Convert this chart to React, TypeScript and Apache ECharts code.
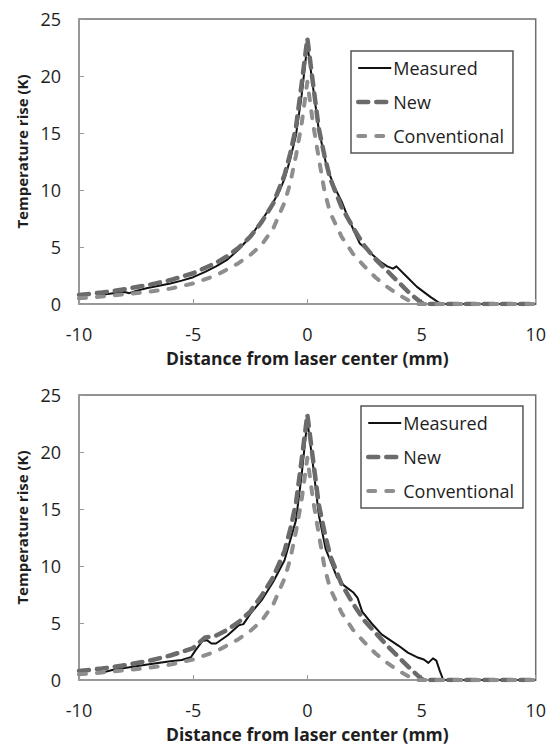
import React, { useEffect, useRef } from "react";
import * as echarts from "echarts";

// ---------- data (x in mm, y in K) ----------
const seriesNames = ["Measured", "New", "Conventional"];
const xTicks = [-10, -5, 0, 5, 10];
const yTicks = [0, 5, 10, 15, 20, 25];

const measuredTop: [number, number][] = [
  [-9.2, 0.7], [-9.0, 0.8], [-8.5, 0.95], [-8.0, 1.05], [-7.8, 0.95], [-7.5, 1.15],
  [-7.0, 1.4], [-6.5, 1.6], [-6.0, 1.8], [-5.5, 2.05], [-5.0, 2.35], [-4.5, 2.8],
  [-4.0, 3.3], [-3.5, 3.9], [-3.0, 4.8], [-2.5, 5.9], [-2.0, 7.3], [-1.5, 8.9],
  [-1.2, 10.0], [-1.0, 11.0], [-0.75, 12.7], [-0.5, 14.8], [-0.25, 18.3], [0, 22.8],
  [0.25, 19.0], [0.5, 15.3], [0.85, 12.0], [1.2, 10.2], [1.5, 9.0], [1.7, 8.0],
  [2.0, 6.6], [2.3, 5.3], [2.75, 4.5], [3.2, 3.7], [3.5, 3.3], [3.75, 3.1],
  [3.9, 3.3], [4.3, 2.5], [4.8, 1.5], [5.4, 0.6], [5.85, 0], [10, 0],
];
const newTop: [number, number][] = [
  [-10, 0.8], [-9, 1.0], [-8, 1.3], [-7, 1.65], [-6, 2.1], [-5, 2.7], [-4, 3.6],
  [-3.5, 4.2], [-3, 4.95], [-2.5, 5.9], [-2, 7.2], [-1.5, 8.8], [-1, 11.3],
  [-0.75, 13.2], [-0.5, 15.5], [-0.25, 19.3], [0, 23.3], [0.25, 19.3], [0.5, 15.4],
  [0.75, 13.0], [1, 11.0], [1.5, 8.5], [2, 6.7], [2.5, 5.1], [3, 3.9], [3.5, 2.9],
  [4, 1.9], [4.5, 0.9], [5, 0.1], [5.2, 0], [10, 0],
];
const conventionalTop: [number, number][] = [
  [-10, 0.5], [-9, 0.65], [-8, 0.85], [-7, 1.05], [-6, 1.35], [-5, 1.8], [-4, 2.5],
  [-3, 3.6], [-2.5, 4.3], [-2, 5.2], [-1.5, 6.6], [-1, 8.9], [-0.75, 10.6],
  [-0.5, 13.0], [-0.25, 15.8], [0, 19.5], [0.25, 15.8], [0.5, 12.8], [0.75, 9.9],
  [1, 8.0], [1.5, 5.9], [2, 4.4], [2.5, 3.3], [3, 2.3], [3.5, 1.5], [4, 0.8],
  [4.5, 0.25], [4.8, 0], [10, 0],
];

const measuredBottom: [number, number][] = [
  [-9.1, 0.6], [-8.5, 0.9], [-8.0, 1.05], [-7.0, 1.35], [-6.0, 1.65], [-5.5, 1.75],
  [-5.1, 2.0], [-4.9, 2.6], [-4.6, 3.4], [-4.4, 3.5], [-4.2, 3.2], [-4.0, 3.2],
  [-3.5, 3.9], [-3.0, 4.8], [-2.8, 4.9], [-2.5, 5.8], [-2.0, 7.0], [-1.5, 8.6],
  [-1.0, 10.5], [-0.5, 14.0], [-0.25, 18.0], [0, 22.8], [0.25, 18.8], [0.5, 14.5],
  [0.8, 11.5], [1.1, 10.0], [1.3, 9.0], [1.6, 8.3], [2.0, 7.7], [2.2, 7.2],
  [2.4, 6.0], [2.8, 5.0], [3.25, 4.0], [4.0, 3.0], [4.4, 2.4], [4.8, 2.0],
  [5.1, 1.8], [5.3, 1.5], [5.5, 1.9], [5.65, 1.7], [5.8, 0.8], [5.95, 0], [10, 0],
];
const newBottom: [number, number][] = [
  [-10, 0.8], [-9, 1.0], [-8, 1.3], [-7, 1.65], [-6, 2.15], [-5, 2.8], [-4.5, 3.7],
  [-4, 3.9], [-3.5, 4.4], [-3, 5.1], [-2.5, 6.0], [-2, 7.4], [-1.5, 9.0], [-1, 11.3],
  [-0.75, 13.2], [-0.5, 15.5], [-0.25, 19.3], [0, 23.3], [0.25, 19.3], [0.5, 15.4],
  [0.75, 13.0], [1, 10.9], [1.5, 8.4], [2, 6.7], [2.5, 5.2], [3, 4.1], [3.5, 3.0],
  [4, 2.0], [4.5, 1.0], [5, 0.1], [5.2, 0], [10, 0],
];
const conventionalBottom: [number, number][] = [
  [-10, 0.5], [-9, 0.65], [-8, 0.85], [-7, 1.05], [-6, 1.35], [-5, 1.8], [-4, 2.5],
  [-3, 3.6], [-2.5, 4.3], [-2, 5.2], [-1.5, 6.6], [-1, 8.9], [-0.75, 10.6],
  [-0.5, 13.0], [-0.25, 15.8], [0, 19.5], [0.25, 15.8], [0.5, 12.8], [0.75, 9.9],
  [1, 8.0], [1.5, 5.9], [2, 4.4], [2.5, 3.3], [3, 2.3], [3.5, 1.5], [4, 0.8],
  [4.5, 0.25], [4.8, 0], [10, 0],
];

const xTitle = "Distance from laser center (mm)";
const yTitle = "Temperature rise (K)";

const FONT = "'Open Sans', 'Noto Sans', sans-serif";

export default function App() {
  const ref = useRef<HTMLDivElement>(null);

  useEffect(() => {
    if (!ref.current) return;
    const chart = echarts.init(ref.current, undefined, { renderer: "svg" });

    const gridTops = [19, 395];
    const data = [
      [measuredTop, newTop, conventionalTop],
      [measuredBottom, newBottom, conventionalBottom],
    ];
    const legendPos = [
      { left: 351, top: 51 },
      { left: 361, top: 406 },
    ];

    const styles: any[] = [
      { color: "#111111", width: 2, type: "solid", cap: "butt" },
      { color: "#6b6b6b", width: 4.5, type: [10, 8], cap: "round" },
      { color: "#8e8e8e", width: 4, type: [7, 11], cap: "round" },
    ];

    const series: any[] = [];
    data.forEach((set, gi) => {
      set.forEach((d, si) => {
        series.push({
          type: "line",
          name: seriesNames[si],
          xAxisIndex: gi,
          yAxisIndex: gi,
          data: d,
          symbol: "none",
          smooth: false,
          lineStyle: {
            color: styles[si].color,
            width: styles[si].width,
            type: styles[si].type,
            cap: styles[si].cap,
            join: "round",
          },
          itemStyle: { color: styles[si].color },
          z: 2 + si,
        });
      });
    });

    const axisCommon = {
      type: "value",
      interval: 5,
      axisLine: { show: true, onZero: false, lineStyle: { color: "#9a9a9a", width: 1.5 } },
      axisTick: { show: true, inside: true, length: 5, lineStyle: { color: "#9a9a9a", width: 1 } },
      splitLine: { show: false },
      axisLabel: { fontSize: 18, color: "#1e1e1e", fontFamily: FONT },
      nameLocation: "middle",
    };

    const option: any = {
      animation: false,
      backgroundColor: "#ffffff",
      grid: gridTops.map((t) => ({
        left: 79,
        top: t,
        width: 458,
        height: 285,
        show: true,
        borderColor: "#6f6f6f",
        borderWidth: 1.5,
        backgroundColor: "transparent",
      })),
      xAxis: gridTops.map((_, gi) => ({
        ...axisCommon,
        gridIndex: gi,
        min: xTicks[0],
        max: xTicks[xTicks.length - 1],
        axisLabel: { ...axisCommon.axisLabel, margin: 21 },
        name: xTitle,
        nameGap: 45,
        nameTextStyle: { fontSize: 17.5, fontWeight: "bold", color: "#1e1e1e", fontFamily: FONT },
      })),
      yAxis: gridTops.map((_, gi) => ({
        ...axisCommon,
        gridIndex: gi,
        min: yTicks[0],
        max: yTicks[yTicks.length - 1],
        axisLabel: { ...axisCommon.axisLabel, margin: 18 },
        name: yTitle,
        nameGap: 46,
        nameTextStyle: {
          fontSize: 15,
          fontWeight: "bold",
          color: "#1e1e1e",
          fontFamily: FONT,
          padding: [0, 0, 0, 20],
        },
      })),
      legend: legendPos.map((p) => ({
        data: seriesNames.map((n, si) => ({
          name: n,
          itemStyle: { opacity: 0 },
          lineStyle: {
            color: styles[si].color,
            width: styles[si].width,
            type: styles[si].type,
            cap: styles[si].cap,
          },
        })),
        orient: "vertical",
        left: p.left,
        top: p.top,
        itemWidth: 33,
        itemHeight: 12,
        itemGap: 14,
        padding: [7, 9, 7, 5],
        borderColor: "#555555",
        borderWidth: 1.5,
        backgroundColor: "#ffffff",
        selectedMode: false,
        textStyle: { fontSize: 18, color: "#1e1e1e", fontFamily: FONT, lineHeight: 20, padding: [0, 0, 0, -3] },
      })),
      series,
    };

    chart.setOption(option);
    return () => chart.dispose();
  }, []);

  return (
    <div
      ref={ref}
      style={{ position: "absolute", left: 0, top: 0, width: 549, height: 751, background: "#fff" }}
    />
  );
}
